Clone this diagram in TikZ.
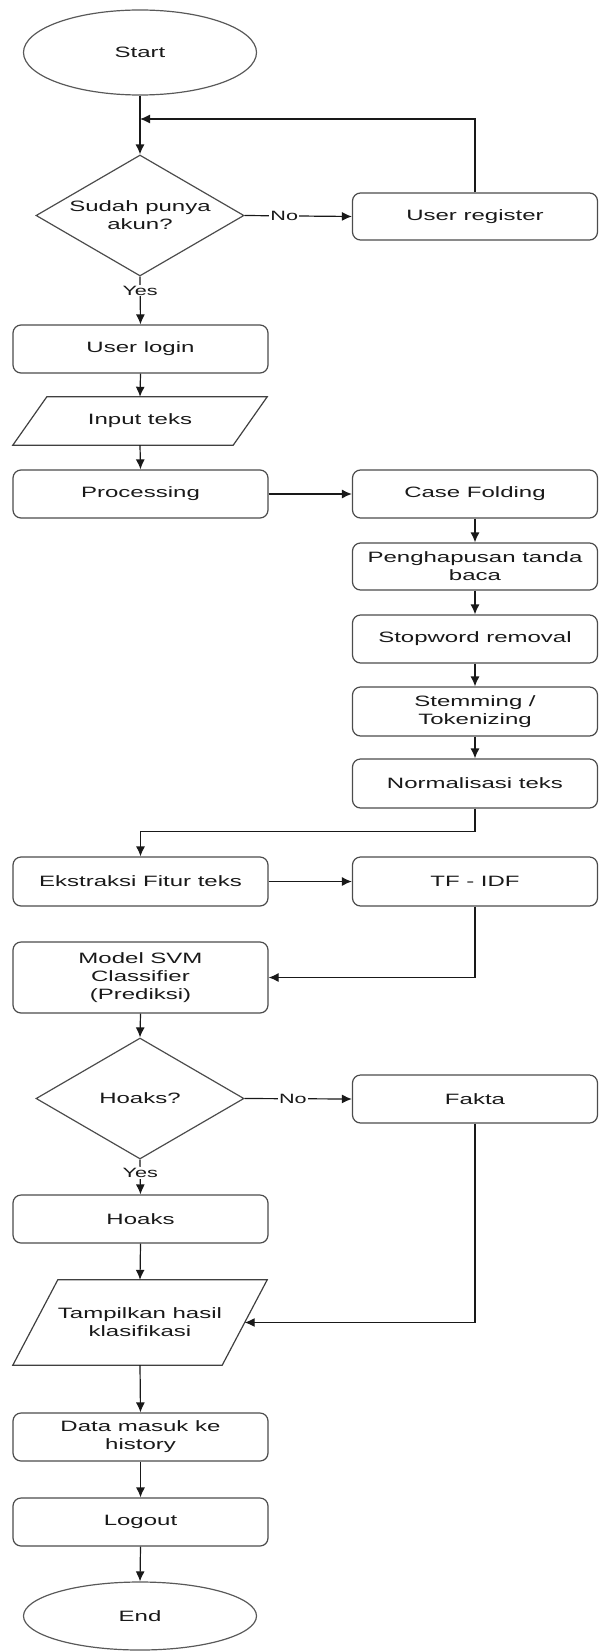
\documentclass[tikz,border=0pt]{standalone}
\usepackage{fontspec}
\newfontfamily\flowfont{Liberation Sans}[FakeStretch=1.6]
\usetikzlibrary{shapes.geometric,arrows.meta,calc}
\begin{document}
\begin{tikzpicture}[x=1pt,y=-1pt,
  every node/.style={font=\flowfont\fontsize{15}{18}\selectfont, text=black!90},
  box/.style={draw=black!70, line width=1.2pt, rounded corners=8pt, minimum height=48pt, align=center, inner sep=2pt},
  lbox/.style={box, minimum width=255pt},
  rbox/.style={box, minimum width=245pt},
  term/.style={ellipse, draw=black!65, line width=1.2pt, minimum width=233pt, inner sep=0pt},
  dec/.style={diamond, draw=black!70, line width=1.2pt, minimum width=208pt, minimum height=121pt, aspect=1.72, inner sep=0pt, align=center},
  io/.style={minimum width=254pt, align=center, inner sep=0pt},
  ioline/.style={draw=black!75, line width=1.2pt, line join=miter},
  conn/.style={draw=black!90, line width=1.2pt, -{Latex[length=10pt,width=9pt]}},
  lab/.style={fill=white, inner sep=1pt, font=\flowfont\fontsize{13.5}{15}\selectfont}
]
\useasboundingbox (0,0) rectangle (598,1651);

% nodes
\node[term, minimum height=85pt] (start) at (140,52.5) {Start};
\node[dec] (dec1) at (140,215.5) {Sudah punya\\akun?};
\node[rbox, minimum height=47pt] (reg) at (475,216.5) {User register};
\node[lbox] (login) at (140.5,349) {User login};
\node[io, minimum height=48pt] (input) at (140,421) {Input teks};
\draw[ioline] (input.south west) -- ($(input.north west)+(34,0)$) -- (input.north east) -- ($(input.south east)+(-34,0)$) -- cycle;
\node[lbox] (proc) at (140.5,494) {Processing};
\node[rbox] (cf) at (475,494) {Case Folding};
\node[rbox, minimum height=47pt] (pen) at (475,566.5) {Penghapusan tanda\\baca};
\node[rbox] (stop) at (475,639) {Stopword removal};
\node[rbox, minimum height=49pt] (stem) at (475,711.5) {Stemming /\\Tokenizing};
\node[rbox, minimum height=49pt] (norm) at (475,783.5) {Normalisasi teks};
\node[lbox, minimum height=49pt] (ekst) at (140.5,881.5) {Ekstraksi Fitur teks};
\node[rbox, minimum height=49pt] (tfidf) at (475,881.5) {TF - IDF};
\node[lbox, minimum height=71pt] (svm) at (140.5,977.5) {Model SVM\\Classifier\\(Prediksi)};
\node[dec] (dec2) at (140,1098.5) {Hoaks?};
\node[rbox] (fakta) at (475,1099) {Fakta};
\node[lbox] (hoaks) at (140.5,1219) {Hoaks};
\node[io, minimum height=85pt] (tamp) at (140,1322.5) {Tampilkan hasil\\klasifikasi};
\draw[ioline] (tamp.south west) -- ($(tamp.north west)+(45,0)$) -- (tamp.north east) -- ($(tamp.south east)+(-45,0)$) -- cycle;
\coordinate (tampR) at ($(tamp.east)+(-22.5,0)$);
\node[lbox] (data) at (140.5,1437) {Data masuk ke\\history};
\node[lbox] (logout) at (140.5,1522) {Logout};
\node[term, minimum height=68pt] (end) at (140,1616) {End};

% connectors
\coordinate (loop) at (140,119);
\draw[conn] (start.south) -- (dec1.north);
\draw[conn] (dec1.east) -- node[lab, pos=0.37] {No} (reg.west);
\draw[conn] (reg.north) |- (loop);
\draw[conn] (dec1.south) -- node[lab, pos=0.29] {Yes} (login.north);
\draw[conn] (login.south) -- (input.north);
\draw[conn] (input.south) -- (proc.north);
\draw[conn] (proc.east) -- (cf.west);
\draw[conn] (cf.south) -- (pen.north);
\draw[conn] (pen.south) -- (stop.north);
\draw[conn] (stop.south) -- (stem.north);
\draw[conn] (stem.south) -- (norm.north);
\draw[conn] (norm.south) |- ($(ekst.north)+(0,-25)$) -- (ekst.north);
\draw[conn] (ekst.east) -- (tfidf.west);
\draw[conn] (tfidf.south) |- (svm.east);
\draw[conn] (svm.south) -- (dec2.north);
\draw[conn] (dec2.east) -- node[lab, pos=0.45] {No} (fakta.west);
\draw[conn] (dec2.south) -- node[lab, pos=0.39] {Yes} (hoaks.north);
\draw[conn] (fakta.south) |- (tampR);
\draw[conn] (hoaks.south) -- (tamp.north);
\draw[conn] (tamp.south) -- (data.north);
\draw[conn] (data.south) -- (logout.north);
\draw[conn] (logout.south) -- (end.north);
\end{tikzpicture}
\end{document}
